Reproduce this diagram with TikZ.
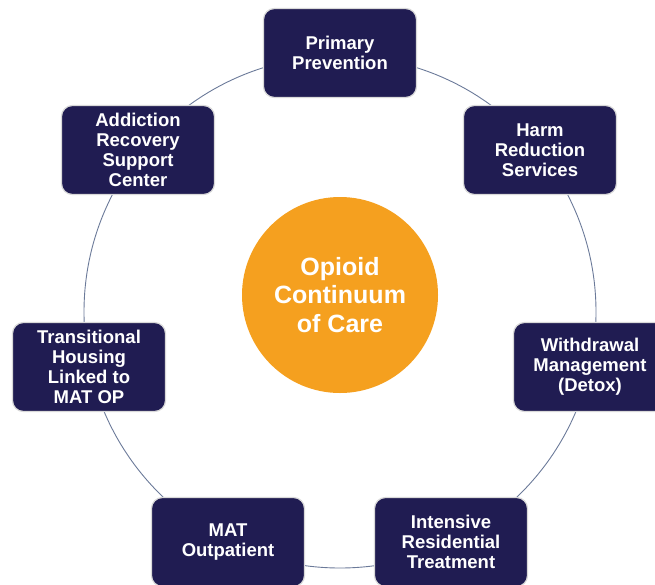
\documentclass[tikz,border=0pt]{standalone}
\usepackage{fontspec}
\setmainfont{Liberation Sans}
\definecolor{navy}{HTML}{201C52}
\definecolor{ringc}{HTML}{6B7A99}
\definecolor{orng}{HTML}{F5A01F}
\begin{document}
\begin{tikzpicture}[x=1pt,y=-1pt,
 stage/.style={draw=gray!30, line width=1.2pt, fill=navy, rounded corners=11pt, minimum width=153pt, minimum height=89pt, text=white, align=center, font=\fontsize{18.5}{20}\selectfont\bfseries, inner sep=0pt},
 hub/.style={circle, fill=orng, minimum size=196pt, inner sep=0pt, text=white, align=center, font=\fontsize{25}{28.5}\selectfont\bfseries}]
\useasboundingbox (0,0) rectangle (655,584);
\coordinate (c) at (340,312);
\draw[ringc, line width=0.9pt] (c) circle[radius=256pt];
\node[stage] (pp) at (340,53) {Primary\\Prevention};
\node[stage] (hr) at (540,150) {Harm\\Reduction\\Services};
\node[stage] (wm) at (590,367) {Withdrawal\\Management\\(Detox)};
\node[stage] (ir) at (451,542) {Intensive\\Residential\\Treatment};
\node[stage] (mo) at (228,542) {MAT\\Outpatient};
\node[stage] (th) at (89,367) {Transitional\\Housing\\Linked to\\MAT OP};
\node[stage] (ar) at (138,150) {Addiction\\Recovery\\Support\\Center};
\node[hub] (hub) at (340,295) {Opioid\\Continuum\\of Care};
\end{tikzpicture}
\end{document}
